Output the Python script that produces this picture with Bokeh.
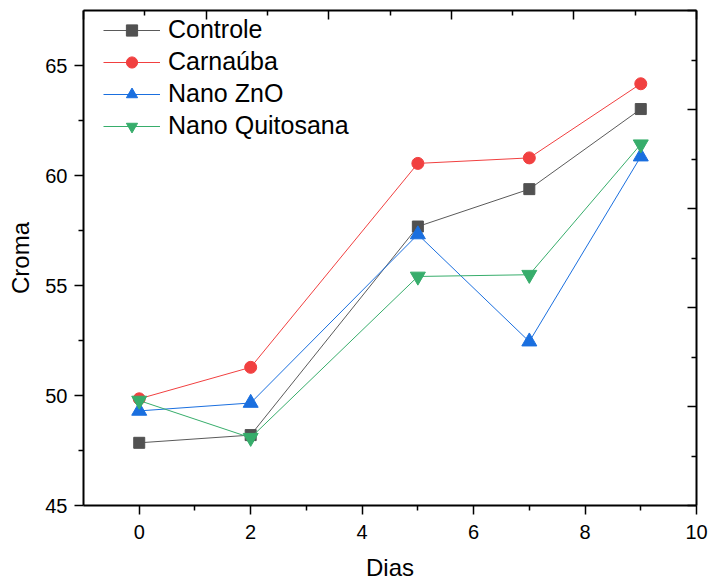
from bokeh.plotting import figure
from bokeh.models import Range1d, LinearAxis, FixedTicker, Legend
from bokeh.embed import file_html
from bokeh.resources import INLINE

dias = [0, 2, 5, 7, 9]
controle = [47.85, 48.2, 57.68, 59.38, 63.02]
carnauba = [49.85, 51.28, 60.55, 60.8, 64.17]
nano_zno = [49.3, 49.66, 57.32, 52.45, 60.86]
nano_quitosana = [49.77, 48.08, 55.41, 55.49, 61.42]

x_ticks = [0, 2, 4, 6, 8, 10]
x_minor = [1, 3, 5, 7, 9]
y_ticks = [45, 50, 55, 60, 65]
y_minor = [47.5, 52.5, 57.5, 62.5]
frame_ticks = [0, 2, 4, 6, 8, 10]
frame_minor = [1, 3, 5, 7, 9]

FONT = "Liberation Sans"

p = figure(width=711, height=586, output_backend="svg", toolbar_location=None,
           x_range=Range1d(-1, 10), y_range=Range1d(45, 67.5),
           min_border_left=83, min_border_right=15, min_border_top=10, min_border_bottom=81)
p.xgrid.visible = False
p.ygrid.visible = False
p.outline_line_color = None
p.background_fill_color = "white"
p.border_fill_color = "white"

series = [
    ("Controle", controle, "#515151", "square", 11),
    ("Carnaúba", carnauba, "#F14040", "circle", 12),
    ("Nano ZnO", nano_zno, "#1A6FDF", "triangle", 15),
    ("Nano Quitosana", nano_quitosana, "#37AD6B", "inverted_triangle", 15),
]
items = []
for name, ys, mc, marker, size in series:
    l = p.line(dias, ys, line_color=mc if name != "Controle" else "#5a5a5a", line_width=1)
    s = p.scatter(dias, ys, marker=marker, size=size, fill_color=mc, line_color=mc)
    items.append((name, [l, s]))

legend = Legend(items=items, location=(20, 365), border_line_color=None,
                background_fill_alpha=0, padding=0, margin=0,
                glyph_width=57, glyph_height=28, label_height=28, spacing=3,
                label_standoff=8, label_text_font=FONT, label_text_font_size="25px",
                label_text_color="black")
p.add_layout(legend, "center")

def style(ax, out):
    ax.axis_line_color = "black"
    ax.axis_line_width = 2
    ax.major_tick_line_color = "black"
    ax.minor_tick_line_color = "black"
    ax.major_tick_line_width = 1.5
    ax.minor_tick_line_width = 1.5
    if out:
        ax.major_tick_out = 9
        ax.major_tick_in = 0
        ax.minor_tick_out = 5
        ax.minor_tick_in = 0
    else:
        ax.major_tick_out = 0
        ax.major_tick_in = 9
        ax.minor_tick_out = 0
        ax.minor_tick_in = 5
    ax.major_label_text_font = FONT
    ax.major_label_text_font_size = "20px"
    ax.major_label_text_color = "black"
    ax.axis_label_text_font = FONT
    ax.axis_label_text_font_size = "24px"
    ax.axis_label_text_font_style = "normal"
    ax.axis_label_text_color = "black"

xa = p.xaxis[0]
xa.ticker = FixedTicker(ticks=x_ticks, minor_ticks=x_minor)
xa.axis_label = "Dias"
style(xa, True)
xa.major_label_standoff = 10
xa.axis_label_standoff = 12

ya = p.yaxis[0]
ya.ticker = FixedTicker(ticks=y_ticks, minor_ticks=y_minor)
ya.axis_label = "Croma"
style(ya, True)
ya.major_label_standoff = 7
ya.axis_label_standoff = 8

p.extra_x_ranges = {"top": Range1d(0, 10)}
p.extra_y_ranges = {"right": Range1d(0, 10)}
top = LinearAxis(x_range_name="top", ticker=FixedTicker(ticks=frame_ticks, minor_ticks=frame_minor),
                 major_label_overrides={t: "" for t in frame_ticks})
style(top, False)
top.major_label_standoff = 0
p.add_layout(top, "above")
right = LinearAxis(y_range_name="right", ticker=FixedTicker(ticks=frame_ticks, minor_ticks=frame_minor),
                   major_label_overrides={t: "" for t in frame_ticks})
style(right, False)
right.major_label_standoff = 0
p.add_layout(right, "right")

open("out.html", "w").write(file_html(p, INLINE))
